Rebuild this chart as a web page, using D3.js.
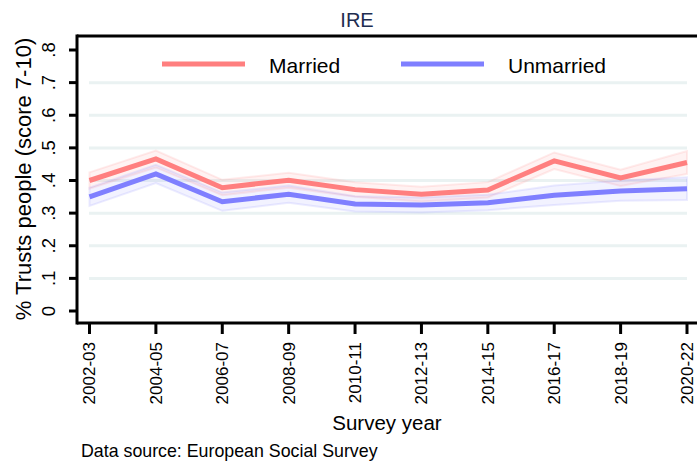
<!DOCTYPE html>
<html><head><meta charset="utf-8">
<script src="https://cdn.jsdelivr.net/npm/d3@7"></script>
<style>body{margin:0;background:#fff}svg{display:block;font-family:"Liberation Sans",Arial,sans-serif}</style>
</head><body>
<svg id="c" width="697" height="465"></svg>
<script>
const categories = ["2002-03","2004-05","2006-07","2008-09","2010-11","2012-13","2014-15","2016-17","2018-19","2020-22"];
const married    = [0.400,0.466,0.378,0.401,0.372,0.358,0.371,0.460,0.408,0.455];
const marriedLo  = [0.375,0.440,0.355,0.378,0.350,0.336,0.348,0.435,0.383,0.420];
const marriedHi  = [0.425,0.492,0.402,0.424,0.395,0.381,0.395,0.486,0.433,0.490];
const unmarried   = [0.350,0.420,0.335,0.358,0.328,0.325,0.332,0.355,0.368,0.375];
const unmarriedLo = [0.322,0.392,0.307,0.332,0.305,0.302,0.309,0.325,0.338,0.340];
const unmarriedHi = [0.378,0.448,0.363,0.385,0.352,0.348,0.356,0.385,0.400,0.410];
const yTicks = [0,0.1,0.2,0.3,0.4,0.5,0.6,0.7,0.8];
const yTickLabels = ["0",".1",".2",".3",".4",".5",".6",".7",".8"];
const gridTicks = [0.1,0.2,0.3,0.4,0.5,0.6,0.7];

const svg = d3.select("#c");
const x = d3.scalePoint().domain(categories).range([89.5, 687]);
const y = d3.scaleLinear().domain([0, 0.8]).range([311, 50]);
const frameL = 77, frameT = 36, frameB = 323;
const red = "#ff7f7f", blue = "#7f7fff";

// grid
svg.append("g").selectAll("line").data(gridTicks).join("line")
  .attr("x1", 89).attr("x2", 687).attr("y1", d => y(d)).attr("y2", d => y(d))
  .attr("stroke", "#eaf2f2").attr("stroke-width", 3);

// CI bands
function band(lo, hi, col) {
  const idx = d3.range(categories.length);
  const area = d3.area().x(i => x(categories[i])).y0(i => y(lo[i])).y1(i => y(hi[i]));
  svg.append("path").datum(idx).attr("d", area)
    .attr("fill", col).attr("fill-opacity", 0.1)
    .attr("stroke", col).attr("stroke-opacity", 0.15).attr("stroke-width", 2);
}
band(marriedLo, marriedHi, red);
band(unmarriedLo, unmarriedHi, blue);

function line(vals, col) {
  const l = d3.line().x((d, i) => x(categories[i])).y(d => y(d));
  svg.append("path").datum(vals).attr("d", l).attr("fill", "none")
    .attr("stroke", col).attr("stroke-width", 5).attr("stroke-linejoin", "miter");
}
line(unmarried, blue);
line(married, red);

// frame
svg.append("line").attr("x1", frameL).attr("x2", 697).attr("y1", frameT).attr("y2", frameT).attr("stroke", "#000").attr("stroke-width", 3);
svg.append("line").attr("x1", frameL).attr("x2", 697).attr("y1", frameB).attr("y2", frameB).attr("stroke", "#000").attr("stroke-width", 3);
svg.append("line").attr("x1", frameL).attr("x2", frameL).attr("y1", frameT - 1.5).attr("y2", frameB + 1.5).attr("stroke", "#000").attr("stroke-width", 3);

// y axis
const yg = svg.append("g");
yg.selectAll("line").data(yTicks).join("line")
  .attr("x1", 69).attr("x2", frameL).attr("y1", d => y(d)).attr("y2", d => y(d))
  .attr("stroke", "#000").attr("stroke-width", 3);
yg.selectAll("text").data(yTicks).join("text")
  .attr("transform", d => `translate(55,${y(d)}) rotate(-90)`)
  .attr("text-anchor", "middle").attr("font-size", 18.5).attr("fill", "#000")
  .text((d, i) => yTickLabels[i]);

// x axis
const xg = svg.append("g");
xg.selectAll("line").data(categories).join("line")
  .attr("x1", d => x(d)).attr("x2", d => x(d)).attr("y1", frameB).attr("y2", 334)
  .attr("stroke", "#000").attr("stroke-width", 3);
xg.selectAll("text").data(categories).join("text")
  .attr("transform", d => `translate(${x(d)},342) rotate(-90)`)
  .attr("text-anchor", "end").attr("dy", "0.35em").attr("font-size", 17).attr("fill", "#000")
  .text(d => d);

// titles
svg.append("text").attr("x", 357).attr("y", 27).attr("text-anchor", "middle")
  .attr("font-size", 20).attr("fill", "#1e2d50").text("IRE");
svg.append("text").attr("transform", "translate(31,179) rotate(-90)").attr("text-anchor", "middle")
  .attr("font-size", 22).attr("fill", "#000").text("% Trusts people (score 7-10)");
svg.append("text").attr("x", 387).attr("y", 430).attr("text-anchor", "middle")
  .attr("font-size", 20.5).attr("fill", "#000").text("Survey year");
svg.append("text").attr("x", 81).attr("y", 457)
  .attr("font-size", 17.8).attr("fill", "#000").text("Data source: European Social Survey");

// legend
const legend = [{label: "Married", col: red, x0: 162, tx: 269}, {label: "Unmarried", col: blue, x0: 401, tx: 508}];
const lg = svg.append("g");
lg.selectAll("line").data(legend).join("line")
  .attr("x1", d => d.x0).attr("x2", d => d.x0 + 83).attr("y1", 64).attr("y2", 64)
  .attr("stroke", d => d.col).attr("stroke-width", 5);
lg.selectAll("text").data(legend).join("text")
  .attr("x", d => d.tx).attr("y", 72.5).attr("font-size", 21).attr("fill", "#000")
  .text(d => d.label);
</script>
</body></html>
